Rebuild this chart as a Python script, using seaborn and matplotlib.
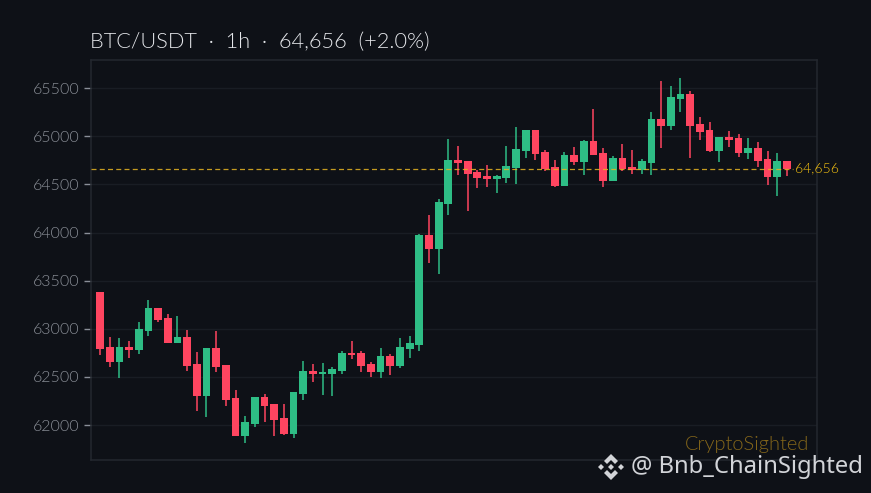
import numpy as np
import pandas as pd
import matplotlib
matplotlib.use("Agg")
import matplotlib.pyplot as plt
from matplotlib.patches import Polygon
import seaborn as sns

SYMBOL_TITLE = "BTC/USDT  ·  1h  ·  64,656  (+2.0%)"
LAST_PRICE = 64656
y_ticks = [62000, 62500, 63000, 63500, 64000, 64500, 65000, 65500]

directions = list("RRGRGGRRGRRGRRRGGRRRGGRGGGRRRGRGGGRGGRRRRGGGGRRRGRGRRGRRGGRGGRRRGRRGRRGR")
body_top = [63386, 62811, 62811, 62811, 62998, 63220, 63220, 63116, 62918, 62918, 62638, 62804,
            62804, 62627, 62284, 62035, 62295, 62295, 62222, 62076, 62347, 62565, 62565, 62554,
            62586, 62752, 62752, 62752, 62638, 62721, 62721, 62814, 62856, 63979, 63979, 64322,
            64758, 64758, 64748, 64633, 64592, 64592, 64696, 64872, 65060, 65060, 64841, 64685,
            64810, 64810, 64956, 64951, 64827, 64775, 64775, 64681, 64744, 65180, 65180, 65409,
            65440, 65440, 65128, 65066, 64993, 64993, 64983, 64879, 64879, 64764, 64744, 64744]
body_bottom = [62793, 62658, 62658, 62783, 62783, 62981, 63095, 62856, 62856, 62617, 62305, 62305,
               62606, 62263, 61889, 61889, 62014, 62201, 62055, 61910, 61910, 62326, 62534, 62534,
               62534, 62565, 62731, 62617, 62554, 62554, 62617, 62617, 62793, 62835, 63833, 63833,
               64301, 64727, 64613, 64571, 64561, 64561, 64571, 64675, 64852, 64821, 64665, 64488,
               64488, 64737, 64737, 64806, 64536, 64536, 64660, 64650, 64650, 64723, 65107, 65107,
               65388, 65107, 65045, 64848, 64848, 64962, 64827, 64827, 64744, 64577, 64577, 64656]
wick_high = [63386, 62918, 62904, 62877, 63074, 63303, 63220, 63157, 63137, 62991, 62762, 62804,
             62981, 62627, 62367, 62097, 62295, 62326, 62222, 62222, 62347, 62669, 62638, 62648,
             62606, 62773, 62877, 62773, 62658, 62804, 62742, 62908, 62929, 63989, 64186, 64353,
             64976, 64904, 64748, 64654, 64706, 64602, 64904, 65101, 65060, 65070, 64862, 64758,
             64841, 64893, 64966, 65284, 64879, 64796, 64920, 64858, 64764, 65253, 65575, 65523,
             65606, 65471, 65201, 65149, 64993, 65055, 65024, 64983, 64941, 64848, 64827, 64744]
wick_low = [62731, 62606, 62489, 62700, 62742, 62929, 63074, 62856, 62849, 62565, 62149, 62087,
            62554, 62201, 61889, 61816, 61983, 62035, 61889, 61900, 61868, 62263, 62450, 62315,
            62305, 62534, 62690, 62554, 62502, 62492, 62523, 62596, 62700, 62773, 63687, 63573,
            64186, 64602, 64228, 64467, 64477, 64415, 64519, 64509, 64779, 64758, 64644, 64477,
            64488, 64706, 64602, 64806, 64473, 64536, 64640, 64608, 64608, 64598, 64879, 65066,
            65253, 64775, 64962, 64837, 64733, 64889, 64785, 64764, 64681, 64494, 64380, 64588]

BG = "#0e1117"
UP = "#2ebd85"
DOWN = "#ff4560"
GOLD = "#e6b422"
W, H = 871, 493

sns.set_theme(style="dark", rc={"axes.facecolor": BG, "figure.facecolor": BG})
plt.rcParams["font.family"] = ["Lato", "DejaVu Sans"]

candles = pd.DataFrame({"i": np.arange(len(directions)), "dir": directions,
                        "top": body_top, "bottom": body_bottom,
                        "high": wick_high, "low": wick_low})
candles["span"] = candles["top"] - candles["bottom"]
wicks = candles.melt(id_vars=["i", "dir"], value_vars=["high", "low"], value_name="price")

fig = plt.figure(figsize=(W / 100, H / 100), dpi=100)
ax = fig.add_axes([90.6 / W, 1 - 460.0 / H, (816.6 - 90.6) / W, (460.0 - 60.0) / H])

ax.grid(True, axis="y", color="#191d24", lw=1.0, zorder=0)
ax.set_axisbelow(True)
sns.lineplot(data=wicks, x="i", y="price", hue="dir", palette={"G": UP, "R": DOWN},
             units="i", estimator=None, lw=1.1, legend=False, ax=ax,
             solid_capstyle="butt", zorder=2)
for key, col in (("G", UP), ("R", DOWN)):
    sub = candles[candles["dir"] == key]
    sns.barplot(data=sub, x="i", y="span", bottom=sub["top"].values - sub["span"].values,
                native_scale=True, color=col, saturation=1, width=0.8, errorbar=None,
                linewidth=0, ax=ax, zorder=3)

ax.axhline(LAST_PRICE, xmin=0, xmax=(793 - 90.6) / 726, color=GOLD, lw=0.9, ls=(0, (4, 2.6)),
           alpha=0.85, zorder=4)
ax.set_xlim(-0.98, 74.07)
ax.set_ylim(61638, 65792)
ax.set_yticks(y_ticks)
ax.set_yticklabels([str(t) for t in y_ticks], fontweight=300)
ax.set_xticks([])
ax.set_xlabel("")
ax.set_ylabel("")
ax.tick_params(axis="y", length=5, width=1, color="#8a8f98", labelcolor="#8b9098",
               labelsize=11.5, pad=3.2, left=True)
for s in ax.spines.values():
    s.set_color("#24282f")
    s.set_linewidth(1.1)

fig.text(90 / W, 1 - 42 / H, SYMBOL_TITLE, color="#e4e6ea", fontsize=15.65, fontweight=300,
         va="center", ha="left")
ax.annotate(f"{LAST_PRICE:,}", xy=(1, LAST_PRICE), xycoords=("axes fraction", "data"),
            xytext=(795 / W, 1 - 168 / H), textcoords="figure fraction",
            color="#f5c211", fontsize=10.1, fontweight=300, va="center", ha="left", zorder=6)
fig.text(809 / W, 1 - 444.5 / H, "CryptoSighted", color="#84661a", fontsize=14.4, fontweight=300,
         va="center", ha="right")
fig.text(631 / W, 1 - 467 / H, "@ Bnb_ChainSighted", color="#d2d4d8", fontsize=17.15,
         family="Noto Sans", va="center", ha="left")

def px(points):
    return [(x / W, 1 - y / H) for x, y in points]
cx, cy, col = 611, 467, "#d2d4d8"
logo = [[(cx, cy - 13), (cx + 7, cy - 6), (cx + 4, cy - 3), (cx, cy - 7), (cx - 4, cy - 3), (cx - 7, cy - 6)],
        [(cx, cy + 13), (cx + 7, cy + 6), (cx + 4, cy + 3), (cx, cy + 7), (cx - 4, cy + 3), (cx - 7, cy + 6)],
        [(cx - 13, cy), (cx - 10, cy - 3), (cx - 7, cy), (cx - 10, cy + 3)],
        [(cx + 13, cy), (cx + 10, cy - 3), (cx + 7, cy), (cx + 10, cy + 3)],
        [(cx, cy - 3), (cx + 3, cy), (cx, cy + 3), (cx - 3, cy)]]
for shape in logo:
    fig.add_artist(Polygon(px(shape), closed=True, fc=col, ec="none", transform=fig.transFigure))

fig.savefig("out.png", dpi=100, facecolor=BG)
